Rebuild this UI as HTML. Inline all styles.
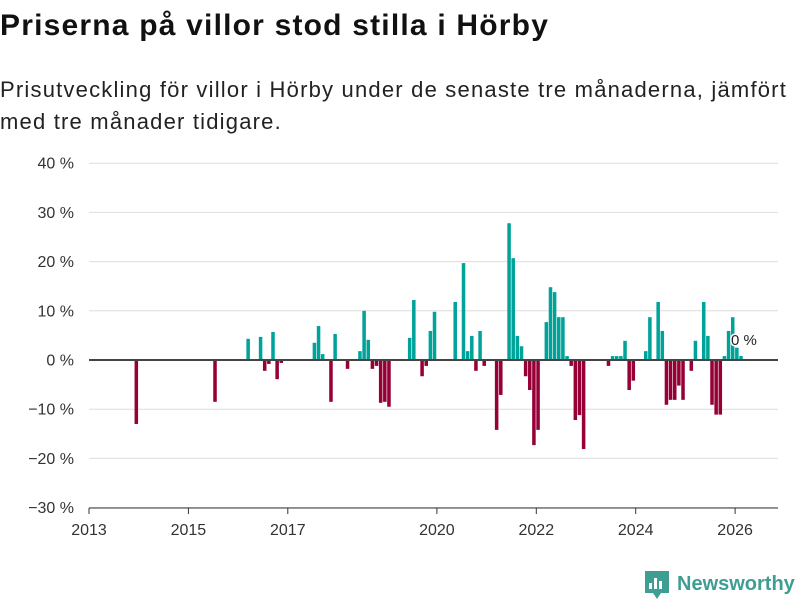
<!DOCTYPE html>
<html><head><meta charset="utf-8"><style>
body{margin:0;width:800px;height:600px;background:#fff;font-family:"Liberation Sans","DejaVu Sans",sans-serif;overflow:hidden;position:relative}
h1{position:absolute;left:0;top:9px;margin:0;font-size:30px;font-weight:bold;color:#111;letter-spacing:1.2px;white-space:nowrap}
.sub{position:absolute;left:0;top:74px;font-size:22px;color:#222;line-height:32px;width:800px;letter-spacing:1.2px;white-space:nowrap}
</style></head><body>
<h1>Priserna på villor stod stilla i Hörby</h1>
<div class="sub">Prisutveckling för villor i Hörby under de senaste tre månaderna, jämfört<br>med tre månader tidigare.</div>
<svg id="c" width="800" height="600" style="position:absolute;left:0;top:0"></svg>
<script>
const yTicks=[40,30,20,10,0,-10,-20,-30];
const xTickYears=[2013,2015,2017,2020,2022,2024,2026];
const months=[11,30,38,41,42,43,44,45,46,54,55,56,58,59,62,65,66,67,68,69,70,71,72,77,78,80,81,82,83,88,90,91,92,93,94,95,98,99,101,102,103,104,105,106,107,108,110,111,112,113,114,115,116,117,118,119,125,126,127,128,129,130,131,134,135,137,138,139,140,141,142,143,145,146,148,149,150,151,152,153,154,155,156,157];
const values=[-13,-8.5,4.3,4.7,-2.2,-0.8,5.7,-3.9,-0.6,3.5,6.9,1.2,-8.5,5.3,-1.8,1.8,10,4.1,-1.8,-1.2,-8.7,-8.5,-9.5,4.5,12.2,-3.3,-1.2,5.9,9.8,11.8,19.7,1.8,4.9,-2.2,5.9,-1.2,-14.2,-7.1,27.8,20.7,4.9,2.8,-3.3,-6.1,-17.3,-14.2,7.7,14.8,13.8,8.7,8.7,0.8,-1.2,-12.2,-11.2,-18.1,-1.2,0.8,0.8,0.8,3.9,-6.1,-4.2,1.8,8.7,11.8,5.9,-9.1,-8.1,-8.1,-5.2,-8.1,-2.2,3.9,11.8,4.9,-9.1,-11.1,-11.1,0.8,5.9,8.7,2.5,0.8];
const svg=document.getElementById('c');const NS='http://www.w3.org/2000/svg';
const y=v=>360-v*4.92;
const mw=49.7/12;
const x=m=>89+m*mw;
function mk(t,a){const e=document.createElementNS(NS,t);for(const k in a)e.setAttribute(k,a[k]);svg.appendChild(e);return e;}
yTicks.forEach(v=>{
 if(v!==0){const l=mk('line',{x1:89,x2:778,y1:y(v),y2:y(v),stroke:'#dedede','stroke-width':1});
 
 }
 const t=mk('text',{x:74,y:y(v)+5.5,'text-anchor':'end','font-size':16,fill:'#333'});
 t.textContent=(v<0?'\u2212'+(-v):v)+' %';
 
 
});
xTickYears.forEach(yr=>{
 const xx=x((yr-2013)*12);
 const l=mk('line',{x1:xx,x2:xx,y1:508,y2:514,stroke:'#333'});
 
 
 const t=mk('text',{x:xx,y:535,'text-anchor':'middle','font-size':16,fill:'#333'});
 t.textContent=yr;
 
 
});
const ax=mk('line',{x1:89,x2:778,y1:508,y2:508,stroke:'#333'});


months.forEach((m,i)=>{
 const v=values[i];
 const r=mk('rect',{x:x(m),width:mw*0.85,y:Math.min(y(v),y(0)),height:Math.abs(y(v)-y(0)),fill:v>=0?'#00a39a':'#960036'});
 
 
});
const z=mk('line',{x1:89,x2:778,y1:360,y2:360,stroke:'#444','stroke-width':2});


const lb=mk('text',{x:731,y:345,'font-size':15,fill:'#222',stroke:'#fff','stroke-width':3,'paint-order':'stroke'});
lb.textContent='0 %';


const lg=mk('g',{});


const ic=document.createElementNS(NS,'path');ic.setAttribute('d','M645 571h24v22h-8l-4 6-4-6h-8z');ic.setAttribute('fill','#3f9e93');lg.appendChild(ic);
[[649,583,3,6],[654,578,3,11],[659,581,3,8]].forEach(b=>{const r=document.createElementNS(NS,'rect');r.setAttribute('x',b[0]);r.setAttribute('y',b[1]);r.setAttribute('width',b[2]);r.setAttribute('height',b[3]);r.setAttribute('fill','#fff');lg.appendChild(r);});
const lt=document.createElementNS(NS,'text');lt.setAttribute('x',677);lt.setAttribute('y',590);lt.setAttribute('font-size',20);lt.setAttribute('font-weight','bold');lt.setAttribute('fill','#3f9e93');lt.textContent='Newsworthy';lg.appendChild(lt);
</script>
</body></html>
